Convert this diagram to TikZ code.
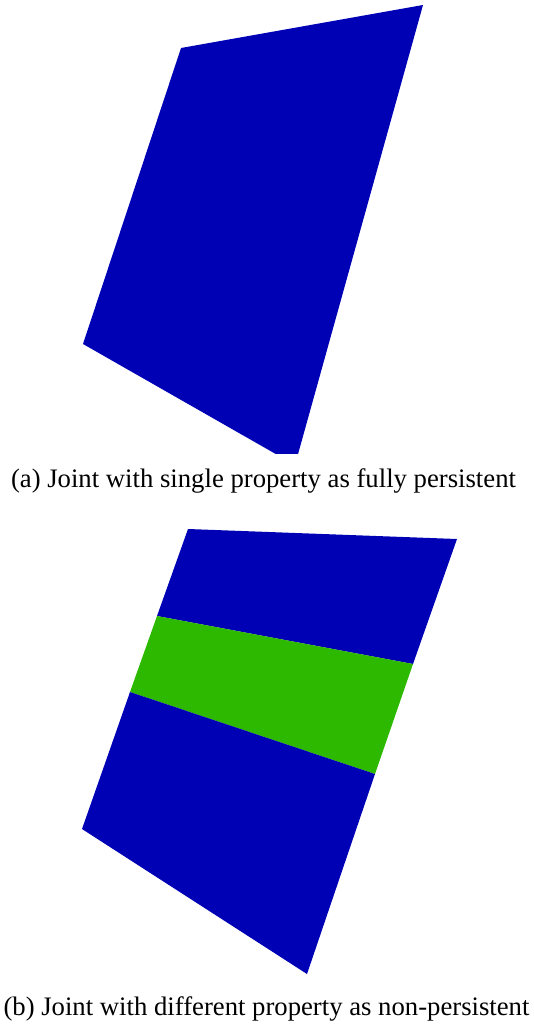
\documentclass[tikz,border=0pt]{standalone}
\usepackage{fontspec}
\setmainfont{Liberation Serif}
\usepackage{xcolor}
\definecolor{jointblue}{RGB}{0,0,180}
\definecolor{jointgreen}{RGB}{45,185,0}

\begin{document}
\begin{tikzpicture}[x=1pt,y=-1pt,
  face/.style={fill=jointblue,draw=none},
  band/.style={fill=jointgreen,draw=none},
  caption/.style={inner sep=0pt,font=\fontsize{26.7}{31}\selectfont}]
  \useasboundingbox (0,0) rectangle (533,1024);

  % (a) single property
  \coordinate (a1) at (181,48);
  \coordinate (a2) at (423,5);
  \coordinate (a3) at (295,465);
  \coordinate (a4) at (83,344);
  \begin{scope}
    \clip (0,0) rectangle (533,453);
    \fill[face] (a1)--(a2)--(a3)--(a4)--cycle;
  \end{scope}
  \node[caption] (capa) at (263.5,481) {(a) Joint with single property as fully persistent};

  % (b) different property
  \coordinate (b1) at (188,529);
  \coordinate (b2) at (457,539);
  \coordinate (b3) at (413,664);
  \coordinate (b4) at (157,616);
  \coordinate (b5) at (375,774);
  \coordinate (b6) at (130,692);
  \coordinate (b7) at (307,974);
  \coordinate (b8) at (82,829);
  \fill[face] (b1)--(b2)--(b3)--(b4)--cycle;
  \fill[band] (b4)--(b3)--(b5)--(b6)--cycle;
  \fill[face] (b6)--(b5)--(b7)--(b8)--cycle;
  \node[caption] (capb) at (266.5,1009) {(b) Joint with different property as non-persistent};
\end{tikzpicture}
\end{document}
